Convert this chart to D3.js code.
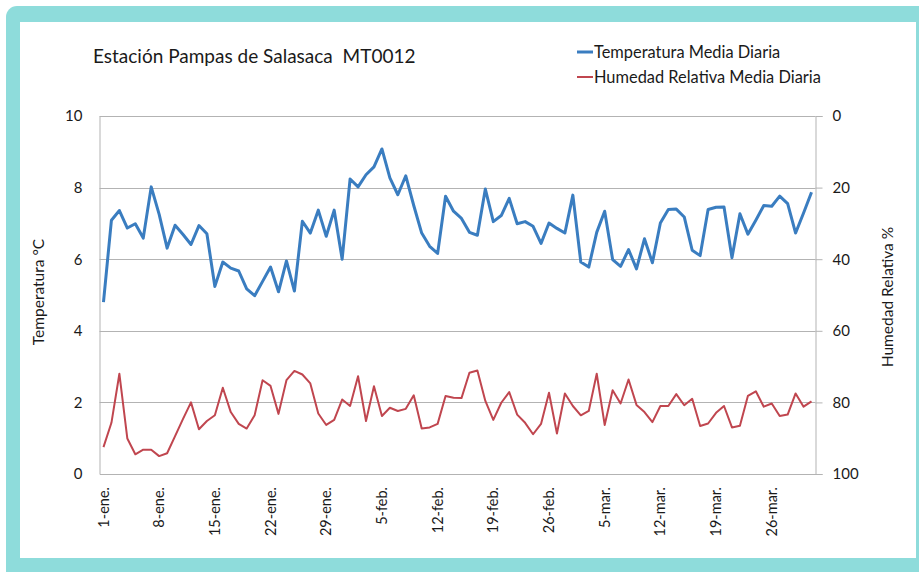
<!DOCTYPE html>
<html>
<head>
<meta charset="utf-8">
<script src="https://cdn.jsdelivr.net/npm/d3@7"></script>
<style>
  html, body { margin: 0; padding: 0; background: #ffffff; }
  svg { display: block; }
  text { font-family: Lato, "Open Sans", sans-serif; fill: #1a1a1a; }
</style>
</head>
<body>
<svg id="chart" width="919" height="572"></svg>
<script>
// Daily series, 1 Jan – 31 Mar
const dayCount = 90;

const temperatura = [
  4.8, 7.09, 7.36, 6.87, 6.99, 6.59, 8.02, 7.25, 6.31, 6.95,
  6.69, 6.41, 6.94, 6.71, 5.24, 5.92, 5.75, 5.67, 5.17, 4.98,
  5.38, 5.78, 5.09, 5.95, 5.11, 7.06, 6.73, 7.37, 6.64, 7.37,
  6.0, 8.24, 8.02, 8.36, 8.58, 9.08, 8.27, 7.80, 8.33, 7.50,
  6.73, 6.36, 6.16, 7.76, 7.34, 7.14, 6.75, 6.67, 7.96, 7.05,
  7.22, 7.70, 6.99, 7.05, 6.92, 6.44, 7.01, 6.86, 6.73, 7.79,
  5.92, 5.78, 6.75, 7.34, 5.99, 5.80, 6.27, 5.73, 6.57, 5.90,
  7.01, 7.39, 7.40, 7.18, 6.25, 6.10, 7.39, 7.45, 7.46, 6.04,
  7.27, 6.70, 7.09, 7.50, 7.48, 7.76, 7.55, 6.73, 7.29, 7.87
];

const humedad = [
  92.5, 85.7, 72.0, 90.1, 94.5, 93.2, 93.2, 95.0, 94.2, 89.4,
  84.6, 80.0, 87.5, 85.2, 83.6, 75.9, 82.7, 86.0, 87.3, 83.6,
  73.8, 75.4, 83.2, 73.8, 71.2, 72.2, 74.7, 83.1, 86.3, 84.9,
  79.2, 81.0, 72.7, 85.2, 75.5, 83.8, 81.5, 82.4, 81.8, 78.0,
  87.3, 87.0, 86.0, 78.2, 78.7, 78.8, 71.7, 71.1, 79.6, 84.9,
  80.1, 77.1, 83.4, 85.7, 88.9, 86.0, 77.3, 88.7, 77.5, 81.0,
  83.6, 82.4, 72.0, 86.3, 76.6, 80.3, 73.6, 80.7, 82.7, 85.5,
  81.0, 81.0, 77.7, 80.8, 79.0, 86.6, 85.9, 82.9, 81.0, 87.0,
  86.5, 78.2, 76.9, 81.2, 80.3, 83.8, 83.4, 77.5, 81.2, 79.7
];

const tickLabels = ["1-ene.", "8-ene.", "15-ene.", "22-ene.", "29-ene.", "5-feb.", "12-feb.",
                    "19-feb.", "26-feb.", "5-mar.", "12-mar.", "19-mar.", "26-mar."];
const tempTicks = [0, 2, 4, 6, 8, 10];
const humTicks = [0, 20, 40, 60, 80, 100];

const days = d3.range(dayCount);
const tickDays = tickLabels.map((_, k) => k * 7);

const svg = d3.select("#chart");
const W = 919, H = 572;

// Teal frame around the card
svg.append("rect").attr("x", 6).attr("y", 6).attr("width", W + 20).attr("height", H + 20)
  .attr("rx", 11).attr("fill", "#8edcdb");
svg.append("rect").attr("x", 20).attr("y", 22).attr("width", 896).attr("height", 536)
  .attr("fill", "#ffffff");

const plot = { left: 99.5, right: 815.5, top: 116, bottom: 474 };

const x = d3.scaleBand().domain(days).range([plot.left, plot.right]);
const xc = i => x(i) + x.bandwidth() / 2;
const yT = d3.scaleLinear().domain([0, 10]).range([plot.bottom, plot.top]);
const yH = d3.scaleLinear().domain([0, 100]).range([plot.top, plot.bottom]);

// Horizontal gridlines
svg.append("g").selectAll("line").data(tempTicks.filter(t => t > 0)).join("line")
  .attr("x1", plot.left).attr("x2", plot.right)
  .attr("y1", d => Math.round(yT(d)) + 0.5).attr("y2", d => Math.round(yT(d)) + 0.5)
  .attr("stroke", "#b3b3b3").attr("stroke-width", 1);

// Left axis (temperature)
const leftAxis = svg.append("g").attr("transform", `translate(${plot.left},0)`)
  .call(d3.axisLeft(yT).tickValues(tempTicks).tickSize(0).tickPadding(17));
leftAxis.select(".domain").attr("stroke", "#b3b3b3");
leftAxis.selectAll("text").attr("font-size", 15).style("font-family", "Lato, sans-serif").attr("fill", "#1a1a1a");

// Right axis (relative humidity)
const rightAxis = svg.append("g").attr("transform", `translate(${plot.right},0)`)
  .call(d3.axisRight(yH).tickValues(humTicks).tickSize(7).tickPadding(10));
rightAxis.select(".domain").attr("stroke", "#b3b3b3");
rightAxis.selectAll("line").attr("stroke", "#b3b3b3");
rightAxis.selectAll("text").attr("font-size", 15).style("font-family", "Lato, sans-serif").attr("fill", "#1a1a1a");

// Bottom axis (dates)
const bottomAxis = svg.append("g").attr("transform", `translate(0,${plot.bottom})`)
  .call(d3.axisBottom(x).tickValues(tickDays).tickSize(0)
    .tickFormat(d => tickLabels[d / 7]));
bottomAxis.select(".domain").attr("stroke", "#b3b3b3");
bottomAxis.selectAll("text")
  .attr("font-size", 14.5).style("font-family", "Lato, sans-serif").attr("fill", "#1a1a1a")
  .attr("transform", "rotate(-90)")
  .attr("text-anchor", "end")
  .attr("x", -13).attr("y", 0).attr("dy", "0.35em");

// Series lines
const lineT = d3.line().x((d, i) => xc(i)).y(d => yT(d));
const lineH = d3.line().x((d, i) => xc(i)).y(d => yH(d));

svg.append("path").datum(humedad).attr("d", lineH)
  .attr("fill", "none").attr("stroke", "#c0464f").attr("stroke-width", 2)
  .attr("stroke-linejoin", "round");
svg.append("path").datum(temperatura).attr("d", lineT)
  .attr("fill", "none").attr("stroke", "#3a7dc0").attr("stroke-width", 3)
  .attr("stroke-linejoin", "round");

// Title
svg.append("text").attr("x", 93).attr("y", 63)
  .style("white-space", "pre").attr("xml:space", "preserve")
  .attr("font-size", 19).text("Estación Pampas de Salasaca  MT0012");

// Legend
const legend = [
  { label: "Temperatura Media Diaria", color: "#3a7dc0", width: 3, y: 52 },
  { label: "Humedad Relativa Media Diaria", color: "#c0464f", width: 2, y: 77 }
];
const lg = svg.append("g");
legend.forEach(l => {
  lg.append("line").attr("x1", 577).attr("x2", 593).attr("y1", l.y).attr("y2", l.y)
    .attr("stroke", l.color).attr("stroke-width", l.width);
  lg.append("text").attr("x", 594).attr("y", l.y).attr("dy", "0.35em")
    .attr("font-size", 16.4).text(l.label);
});

// Axis titles
svg.append("text").attr("transform", "translate(44,292) rotate(-90)")
  .attr("text-anchor", "middle").attr("font-size", 15.5).text("Temperatura °C");
svg.append("text").attr("transform", "translate(893,297) rotate(-90)")
  .attr("text-anchor", "middle").attr("font-size", 15.5).text("Humedad Relativa %");
</script>
</body>
</html>
